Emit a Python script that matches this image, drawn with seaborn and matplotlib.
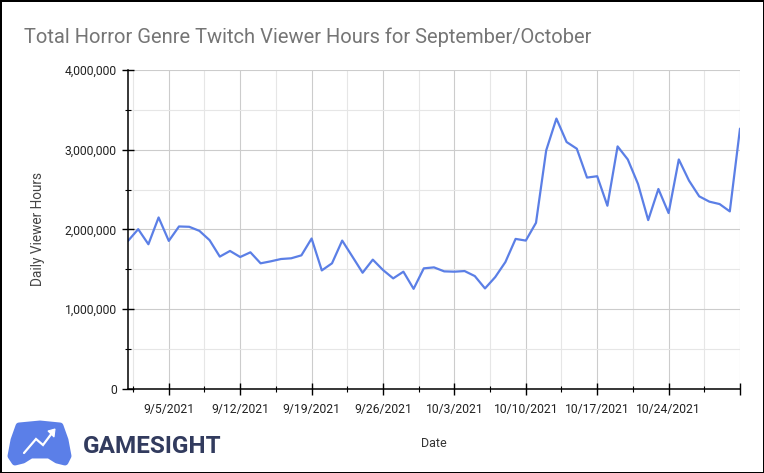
import numpy as np
import pandas as pd
import seaborn as sns
import matplotlib.pyplot as plt
from matplotlib.ticker import MultipleLocator, FuncFormatter
from matplotlib.patches import Polygon
from matplotlib.lines import Line2D

# datos (horas diarias, 1 sep - 31 oct 2021)
start_date = "2021-09-01"
end_date = "2021-10-31"
viewer_hours_sep = [
    1857000, 2004000, 1815000, 2151000, 1857000, 2038000, 2034000, 1983000,
    1866000, 1660000, 1731000, 1655000, 1714000, 1576000, 1601000, 1630000,
    1639000, 1676000, 1887000, 1487000, 1576000, 1861000, 1660000, 1458000,
    1622000, 1492000, 1387000, 1471000, 1256000, 1513000,
]
viewer_hours_oct = [
    1525000, 1475000, 1471000, 1479000, 1416000, 1261000, 1403000, 1592000,
    1882000, 1861000, 2084000, 2992000, 3391000, 3097000, 3013000, 2651000,
    2668000, 2298000, 3042000, 2878000, 2571000, 2118000, 2508000, 2206000,
    2878000, 2613000, 2416000, 2349000, 2319000, 2227000, 3265000,
]
week_labels = ["9/5/2021", "9/12/2021", "9/19/2021", "9/26/2021",
               "10/3/2021", "10/10/2021", "10/17/2021", "10/24/2021", ""]

dates = pd.date_range(start_date, end_date, freq="D")
df = pd.DataFrame({"Date": dates, "Hours": viewer_hours_sep + viewer_hours_oct})

sns.set_style("white")
plt.rcParams["font.family"] = ["Roboto", "DejaVu Sans"]

W, H = 764, 473
fig = plt.figure(figsize=(W / 100, H / 100), dpi=100)
fig.patch.set_edgecolor("black")
fig.patch.set_linewidth(2)
ax = fig.add_axes([128 / W, 1 - 389 / H, (740 - 128) / W, (389 - 70) / H])

sns.lineplot(data=df, x="Date", y="Hours", color="#5b7fe6", linewidth=1.6, ax=ax)

ax.set_xlim(pd.Timestamp(start_date), pd.Timestamp(end_date))
ax.set_ylim(0, 4000000)

# ticks semanales + medias semanas
major = pd.date_range("2021-09-05", end_date, freq="7D")
minor = pd.date_range("2021-09-01 12:00", end_date, freq="84h")
ax.set_xticks(major)
ax.set_xticklabels(week_labels)
ax.set_xticks(minor, minor=True)
ax.yaxis.set_major_locator(MultipleLocator(1000000))
ax.yaxis.set_minor_locator(MultipleLocator(500000))
ax.yaxis.set_major_formatter(FuncFormatter(lambda v, p: f"{int(v):,}"))

ax.grid(True, which="major", color="#cccccc", linewidth=0.8)
ax.grid(True, which="minor", color="#e6e6e6", linewidth=0.8)
ax.set_axisbelow(True)
for s in ["top", "right"]:
    ax.spines[s].set_visible(False)
for s in ["left", "bottom"]:
    ax.spines[s].set_color("black")
    ax.spines[s].set_linewidth(1.1)

ax.tick_params(which="both", bottom=True, left=True)
ax.tick_params(which="major", direction="inout", length=8, width=1, color="black",
               labelsize=8.7, labelcolor="#222222")
ax.tick_params(which="minor", direction="inout", length=4.5, width=0.8, color="black")
ax.tick_params(axis="y", which="major", pad=4)
ax.tick_params(axis="x", which="major", pad=6)

ax.set_xlabel("Date", fontsize=9, color="#333333", labelpad=15)
ax.set_ylabel("Daily Viewer Hours", fontsize=9.8, color="#444444", labelpad=14)

fig.text(24 / W, 1 - 37 / H, "Total Horror Genre Twitch Viewer Hours for September/October",
         fontsize=14.5, color="#757575", va="center", ha="left")

# logo Gamesight
def px(x, y):
    return (x / W, 1 - y / H)

ctrl = [px(19, 426), px(40, 424), px(60, 426), px(65, 440), px(68, 456), px(65, 462),
        px(57, 460), px(49, 455), px(31, 455), px(23, 460), px(15, 462), px(11, 456),
        px(14, 440)]
fig.add_artist(Polygon(ctrl, closed=True, transform=fig.transFigure, facecolor="#5b7fe8",
                       edgecolor="#5b7fe8", linewidth=5, joinstyle="round"))
arrow = [px(24, 453), px(36, 439), px(43, 445), px(52, 433)]
fig.add_artist(Line2D([p[0] for p in arrow], [p[1] for p in arrow], transform=fig.transFigure,
                      color="white", linewidth=1.6, solid_joinstyle="miter"))
fig.add_artist(Polygon([px(55, 429), px(48, 431), px(54, 437)], closed=True,
                       transform=fig.transFigure, facecolor="white", edgecolor="white", linewidth=0.8))
fig.text(83 / W, 1 - 446 / H, "GAMESIGHT", fontsize=17.5, fontweight="bold",
         color="#323b5e", va="center", ha="left")

fig.savefig("out.png", dpi=100)
